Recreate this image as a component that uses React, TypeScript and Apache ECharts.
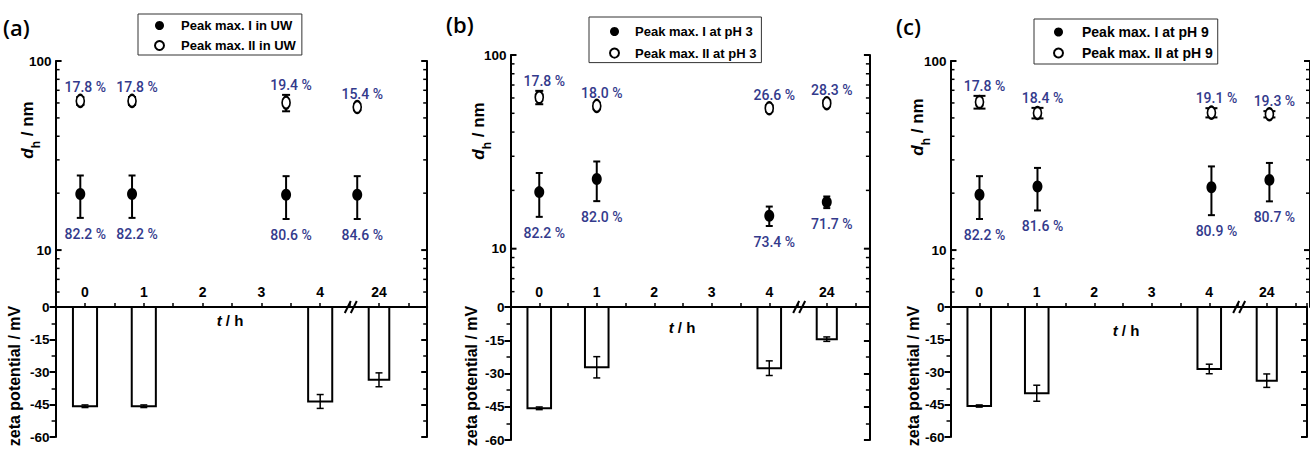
import React, { useEffect, useRef } from 'react';
import * as echarts from 'echarts';

// ---------- data ----------
const TIME_LABELS = ['0', '1', '2', '3', '4', '24'];
const ZETA_X = [0, 1, 4, 5];
const LOG_TICKS = [6, 7, 8, 9, 10, 20, 30, 40, 50, 60, 70, 80, 90, 100];
const LOG_LABELS = [10, 100];
const BREAK_AT = [4.52];

// panel (a) – UW
const DH_X_A = [-0.08, 0.8, 3.42, 4.63];
const PEAK1_A = [19.8, 19.8, 19.6, 19.6];
const PEAK1_ERR_A = [5, 5, 5, 5];
const PEAK1_PCT_A = ['82.2 %', '82.2 %', '80.6 %', '84.6 %'];
const PEAK2_A = [61.5, 61.5, 60.2, 57.1];
const PEAK2_ERR_A = [3, 3, 6, 2];
const PEAK2_PCT_A = ['17.8 %', '17.8 %', '19.4 %', '15.4 %'];
const ZETA_A = [-45.8, -45.8, -43.6, -33.6];
const ZETA_ERR_A = [0.6, 0.6, 3.2, 3.2];

// panel (b) – pH 3
const DH_X_B = [0, 1, 4, 5];
const PEAK1_B = [19.6, 22.9, 14.8, 17.4];
const PEAK1_ERR_B = [5, 5.3, 1.7, 1.2];
const PEAK1_PCT_B = ['82.2 %', '82.0 %', '73.4 %', '71.7 %'];
const PEAK2_B = [60.5, 54.6, 53.1, 56.4];
const PEAK2_ERR_B = [4.8, 2, 2, 2];
const PEAK2_PCT_B = ['17.8 %', '18.0 %', '26.6 %', '28.3 %'];
const ZETA_B = [-45.7, -27.2, -27.6, -14.5];
const ZETA_ERR_B = [0.6, 4.8, 3.3, 1];

// panel (c) – pH 9
const DH_X_C = [0, 1, 4, 5];
const PEAK1_C = [19.6, 21.7, 21.5, 23.5];
const PEAK1_ERR_C = [5, 5.5, 6.2, 5.4];
const PEAK1_PCT_C = ['82.2 %', '81.6 %', '80.9 %', '80.7 %'];
const PEAK2_C = [60.7, 53.1, 53.3, 52.3];
const PEAK2_ERR_C = [4.7, 3.4, 3, 2];
const PEAK2_PCT_C = ['17.8 %', '18.4 %', '19.1 %', '19.3 %'];
const ZETA_C = [-45.7, -39.8, -28.6, -34];
const ZETA_ERR_C = [0.5, 3.7, 2.2, 3.1];

// ---------- layout / style ----------
const FONT = '"Liberation Sans", Arial, Helvetica, sans-serif';
const PCT_FONT = '500 14px Roboto, "Liberation Sans", Arial, sans-serif';
const BLUE = '#333a8c';
const X_MIN = -0.5;
const ZERO_Y = 307;
const BAR_W = 0.41;
const BAR_W_LATE = 0.35;

const PANELS = [
  {
    tag: '(a)', tagX: 3, tagY: 27,
    left: 55.6, width: 371.6, xMax: 5.82, top: 61, bottom: 437,
    dhX: DH_X_A, p1: PEAK1_A, p1e: PEAK1_ERR_A, p1l: PEAK1_PCT_A,
    p2: PEAK2_A, p2e: PEAK2_ERR_A, p2l: PEAK2_PCT_A,
    zeta: ZETA_A, zetaE: ZETA_ERR_A,
    names: ['Peak max. I in UW', 'Peak max. II in UW'],
    legend: { left: 138, top: 14, padding: [5, 6, 3, 16], itemHeight: 11, itemGap: 7, fontSize: 13, textPad: 12 },
    dhTitle: [27, 130], zetaTitle: [14, 376], tTitle: [230, 320], cap2: 4,
  },
  {
    tag: '(b)', tagX: 446, tagY: 24,
    left: 510.5, width: 359.4, xMax: 5.75, top: 55, bottom: 440,
    dhX: DH_X_B, p1: PEAK1_B, p1e: PEAK1_ERR_B, p1l: PEAK1_PCT_B,
    p2: PEAK2_B, p2e: PEAK2_ERR_B, p2l: PEAK2_PCT_B,
    zeta: ZETA_B, zetaE: ZETA_ERR_B,
    names: ['Peak max. I at pH 3', 'Peak max. II at pH 3'],
    legend: { left: 589, top: 17, padding: [8, 5, 3, 20], itemHeight: 12, itemGap: 8.6, fontSize: 13, textPad: 11 },
    dhTitle: [478, 131], zetaTitle: [471, 376], tTitle: [682, 327], cap2: 4,
  },
  {
    tag: '(c)', tagX: 896, tagY: 26,
    left: 950.5, width: 365.8, xMax: 5.7, top: 61, bottom: 437,
    dhX: DH_X_C, p1: PEAK1_C, p1e: PEAK1_ERR_C, p1l: PEAK1_PCT_C,
    p2: PEAK2_C, p2e: PEAK2_ERR_C, p2l: PEAK2_PCT_C,
    zeta: ZETA_C, zetaE: ZETA_ERR_C,
    names: ['Peak max. I at pH 9', 'Peak max. II at pH 9'],
    legend: { left: 1034, top: 19, padding: [6, 5, 4, 19], itemHeight: 12, itemGap: 7, fontSize: 14, textPad: 14 },
    dhTitle: [917, 127], zetaTitle: [913, 376], tTitle: [1126, 330], cap2: 6,
  },
];

const AXIS_LINE = { show: true, onZero: false, lineStyle: { color: '#000', width: 2 } };

function buildOption() {
  const grid: any[] = [];
  const xAxis: any[] = [];
  const yAxis: any[] = [];
  const series: any[] = [];
  const legend: any[] = [];
  const graphic: any[] = [];

  PANELS.forEach((P, p) => {
    const gTop = 2 * p;
    const gBot = 2 * p + 1;
    grid.push({ left: P.left, width: P.width, top: P.top, height: ZERO_Y - P.top });
    grid.push({ left: P.left, width: P.width, top: ZERO_Y, height: P.bottom - ZERO_Y });

    xAxis.push({ type: 'value', gridIndex: gTop, min: X_MIN, max: P.xMax, show: false });
    xAxis.push({
      type: 'value', gridIndex: gBot, min: X_MIN, max: P.xMax, interval: 0.5, position: 'top',
      axisLine: AXIS_LINE,
      axisTick: { show: true, length: 4, lineStyle: { color: '#000', width: 1.5 } },
      splitLine: { show: false },
      axisLabel: {
        interval: 0, margin: 8, color: '#000', fontSize: 14, fontWeight: 'bold', fontFamily: FONT,
        formatter: (v: number) => {
          const r = Math.round(v * 2) / 2;
          if (Number.isInteger(r) && r >= 0 && r < TIME_LABELS.length && Math.abs(v - r) < 1e-6) return TIME_LABELS[r];
          return '';
        },
      },
    });

    // log axes (top grid)
    yAxis.push({
      type: 'log', logBase: 10, gridIndex: gTop, min: 5, max: 100, position: 'left',
      axisLine: AXIS_LINE, axisTick: { show: false }, axisLabel: { show: false }, splitLine: { show: false },
    });
    yAxis.push({
      type: 'log', logBase: 10, gridIndex: gTop, min: 5, max: 100, position: 'right',
      axisLine: AXIS_LINE, axisTick: { show: false }, axisLabel: { show: false }, splitLine: { show: false },
    });
    // zeta axes (bottom grid)
    yAxis.push({
      type: 'value', gridIndex: gBot, min: -60, max: 0, interval: 15, position: 'left',
      axisLine: AXIS_LINE,
      axisTick: { show: true, inside: false, length: 6, lineStyle: { color: '#000', width: 2 } },
      minorTick: { show: true, splitNumber: 2, length: 4, lineStyle: { color: '#000', width: 1.5 } },
      splitLine: { show: false },
      axisLabel: { margin: 6, color: '#000', fontSize: 13.5, fontWeight: 'bold', fontFamily: FONT },
    });
    yAxis.push({
      type: 'value', gridIndex: gBot, min: -60, max: 0, interval: 15, position: 'right',
      axisLine: AXIS_LINE,
      axisTick: { show: true, inside: true, length: 6, lineStyle: { color: '#000', width: 2 } },
      minorTick: { show: true, splitNumber: 2, length: 4, lineStyle: { color: '#000', width: 1.5 } },
      splitLine: { show: false }, axisLabel: { show: false },
    });

    const yLog = 4 * p;
    const yZeta = 4 * p + 2;

    // log ticks and labels, both sides
    series.push({
      type: 'custom', name: `logticks-${p}`, xAxisIndex: gTop, yAxisIndex: yLog, clip: false, silent: true, z: 1,
      data: LOG_TICKS.map((v) => [X_MIN, v]),
      renderItem: (params: any, api: any) => {
        const v = api.value(1);
        const l = api.coord([X_MIN, v]);
        const r = api.coord([P.xMax, v]);
        const major = LOG_LABELS.indexOf(v) >= 0;
        const len = major ? 6 : 4;
        const st = { stroke: '#000', lineWidth: major ? 2 : 1.5 };
        const children: any[] = [
          { type: 'line', shape: { x1: l[0], y1: l[1], x2: l[0] + len, y2: l[1] }, style: st },
          { type: 'line', shape: { x1: r[0] - len, y1: r[1], x2: r[0], y2: r[1] }, style: st },
        ];
        if (major) {
          children.push({
            type: 'text', x: l[0] - 4, y: l[1],
            style: { text: String(v), fill: '#000', font: `bold 13.5px ${FONT}`, align: 'right', verticalAlign: 'middle' },
          });
        }
        return { type: 'group', children };
      },
    });

    const errSeries = (vals: number[], errs: number[], lbls: string[], above: boolean, cap: number, tag: string) => ({
      type: 'custom', name: `err-${tag}-${p}`, xAxisIndex: gTop, yAxisIndex: yLog, clip: false, silent: true, z: 2,
      data: P.dhX.map((x, i) => [x, vals[i], errs[i]]),
      renderItem: (params: any, api: any) => {
        const x = api.value(0);
        const v = api.value(1);
        const e = api.value(2);
        const c = api.coord([x, v]);
        const hi = api.coord([x, v + e]);
        const lo = api.coord([x, v - e]);
        const st = { stroke: '#000', lineWidth: 2 };
        return {
          type: 'group',
          children: [
            { type: 'line', shape: { x1: c[0], y1: hi[1], x2: c[0], y2: lo[1] }, style: st },
            { type: 'line', shape: { x1: c[0] - cap, y1: hi[1], x2: c[0] + cap, y2: hi[1] }, style: st },
            { type: 'line', shape: { x1: c[0] - cap, y1: lo[1], x2: c[0] + cap, y2: lo[1] }, style: st },
            {
              type: 'text', x: c[0] + 5, y: above ? hi[1] - 10 : lo[1] + 16,
              style: { text: lbls[params.dataIndex], fill: BLUE, font: PCT_FONT, align: 'center', verticalAlign: 'middle' },
            },
          ],
        };
      },
    });
    series.push(errSeries(P.p1, P.p1e, P.p1l, false, 3.5, 'I'));
    series.push(errSeries(P.p2, P.p2e, P.p2l, true, P.cap2, 'II'));

    series.push({
      type: 'scatter', name: P.names[0], xAxisIndex: gTop, yAxisIndex: yLog, z: 3,
      symbol: 'circle', symbolSize: [10, 12],
      itemStyle: { color: '#000', opacity: 1 },
      data: P.dhX.map((x, i) => [x, P.p1[i]]),
    });
    series.push({
      type: 'scatter', name: P.names[1], xAxisIndex: gTop, yAxisIndex: yLog, z: 3,
      symbol: 'emptyCircle', symbolSize: [8, 12],
      itemStyle: { color: '#000', borderColor: '#000', borderWidth: 1.8, opacity: 1 },
      data: P.dhX.map((x, i) => [x, P.p2[i]]),
    });

    // zeta potential bars with error bars
    series.push({
      type: 'custom', name: `zeta-${p}`, xAxisIndex: gBot, yAxisIndex: yZeta, clip: false, silent: true, z: 2,
      data: ZETA_X.map((x, i) => [x, P.zeta[i], P.zetaE[i]]),
      renderItem: (params: any, api: any) => {
        const x = api.value(0);
        const v = api.value(1);
        const e = api.value(2);
        const w = x >= 5 ? BAR_W_LATE : BAR_W;
        const a = api.coord([x - w / 2, 0]);
        const b = api.coord([x + w / 2, v]);
        const hi = api.coord([x, v + e]);
        const lo = api.coord([x, v - e]);
        const st = { stroke: '#000', lineWidth: 1.5 };
        return {
          type: 'group',
          children: [
            {
              type: 'rect',
              shape: { x: a[0], y: Math.min(a[1], b[1]), width: b[0] - a[0], height: Math.abs(b[1] - a[1]) },
              style: { fill: '#fff', stroke: '#000', lineWidth: 2 },
            },
            { type: 'line', shape: { x1: hi[0], y1: hi[1], x2: lo[0], y2: lo[1] }, style: st },
            { type: 'line', shape: { x1: hi[0] - 3.5, y1: hi[1], x2: hi[0] + 3.5, y2: hi[1] }, style: st },
            { type: 'line', shape: { x1: lo[0] - 3.5, y1: lo[1], x2: lo[0] + 3.5, y2: lo[1] }, style: st },
          ],
        };
      },
    });

    // axis break marks
    series.push({
      type: 'custom', name: `break-${p}`, xAxisIndex: gBot, yAxisIndex: yZeta, clip: false, silent: true, z: 4,
      data: BREAK_AT.map((x) => [x, 0]),
      renderItem: (params: any, api: any) => {
        const c = api.coord([api.value(0), api.value(1)]);
        const st = { stroke: '#000', lineWidth: 2 };
        return {
          type: 'group',
          children: [-3, 3].map((dx) => ({
            type: 'line', shape: { x1: c[0] + dx - 3, y1: c[1] + 6, x2: c[0] + dx + 3, y2: c[1] - 6 }, style: st,
          })),
        };
      },
    });

    legend.push({
      orient: 'vertical', left: P.legend.left, top: P.legend.top, padding: P.legend.padding,
      itemWidth: 9, itemHeight: P.legend.itemHeight, itemGap: P.legend.itemGap,
      symbolKeepAspect: false, selectedMode: false,
      borderColor: '#333', borderWidth: 1, backgroundColor: '#fff',
      data: P.names,
      textStyle: {
        color: '#000', fontSize: P.legend.fontSize, fontWeight: 'bold', fontFamily: FONT,
        lineHeight: P.legend.fontSize, padding: [0, 0, 0, P.legend.textPad],
      },
    });

    graphic.push({
      type: 'text', x: P.tagX, y: P.tagY,
      style: { text: P.tag, fill: '#000', font: `600 22px "Open Sans", ${FONT}`, align: 'left', verticalAlign: 'middle' },
    });
    graphic.push({
      type: 'text', x: P.dhTitle[0], y: P.dhTitle[1], rotation: Math.PI / 2,
      style: {
        text: '{d|d}{h|h}{n| / nm}', fill: '#000', align: 'center', verticalAlign: 'middle',
        rich: {
          d: { fontSize: 17, fontWeight: 'bold', fontStyle: 'italic', fontFamily: FONT, lineHeight: 30 },
          h: { fontSize: 12, fontWeight: 'bold', fontFamily: FONT, lineHeight: 14, verticalAlign: 'bottom' },
          n: { fontSize: 17, fontWeight: 'bold', fontFamily: FONT, lineHeight: 30 },
        },
      },
    });
    graphic.push({
      type: 'text', x: P.zetaTitle[0], y: P.zetaTitle[1], rotation: Math.PI / 2,
      style: { text: 'zeta potential / mV', fill: '#000', font: `bold 16px ${FONT}`, align: 'center', verticalAlign: 'middle' },
    });
    graphic.push({
      type: 'text', x: P.tTitle[0], y: P.tTitle[1],
      style: {
        text: '{t|t}{n| / h}', fill: '#000', align: 'center', verticalAlign: 'middle',
        rich: {
          t: { fontSize: 15, fontWeight: 'bold', fontStyle: 'italic', fontFamily: FONT },
          n: { fontSize: 15, fontWeight: 'bold', fontFamily: FONT },
        },
      },
    });
  });

  return { animation: false, backgroundColor: '#fff', grid, xAxis, yAxis, series, legend, graphic };
}

export default function App() {
  const ref = useRef<HTMLDivElement>(null);
  useEffect(() => {
    document.body.style.margin = '0';
    if (!ref.current) return;
    const chart = echarts.init(ref.current, null, { renderer: 'svg' });
    chart.setOption(buildOption() as any);
    return () => chart.dispose();
  }, []);
  return <div ref={ref} style={{ width: 1310, height: 449 }} />;
}
